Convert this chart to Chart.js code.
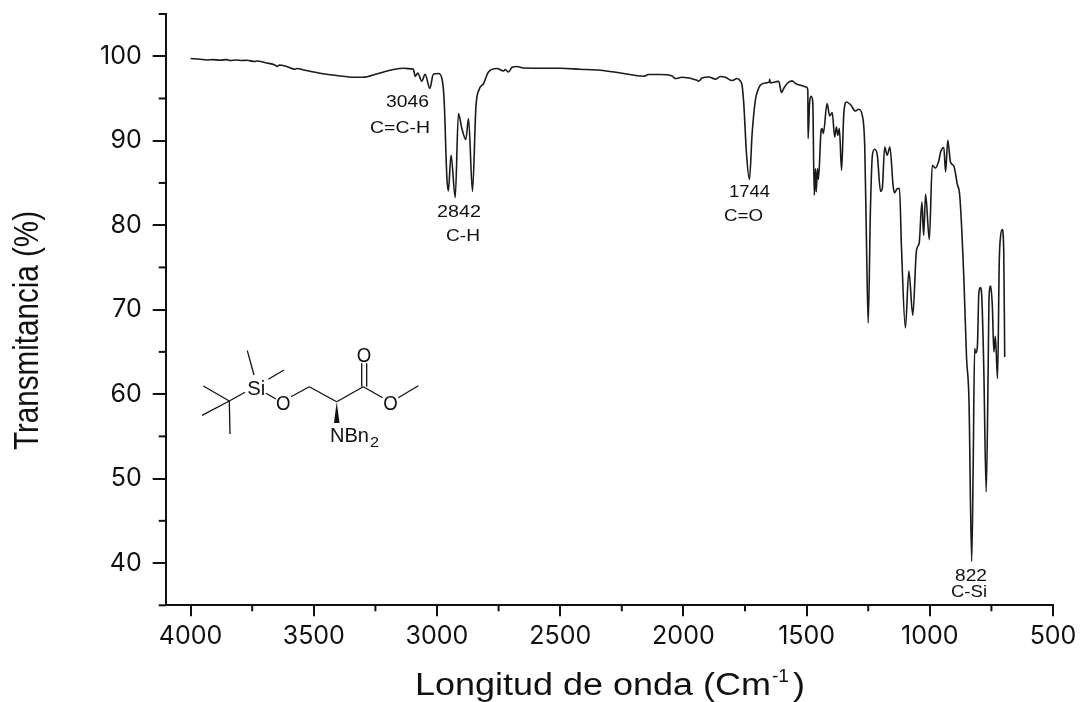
<!DOCTYPE html>
<html>
<head>
<meta charset="utf-8">
<style>
	html, body { margin: 0; padding: 0; background: #fff; }
	#wrap { position: relative; width: 1083px; height: 702px; }
</style>
<script src="https://cdn.jsdelivr.net/npm/chart.js@4"></script>
</head>
<body>
<div id="wrap"><canvas id="irChart" width="1083" height="702"></canvas></div>
<script>
const wavenumbers = [
	4000, 3962, 3935, 3908, 3881, 3854, 3840, 3813, 3793, 3773, 3739, 3732, 3691, 3658, 3648, 3640,
	3610, 3576, 3569, 3536, 3475, 3407, 3333, 3299, 3245, 3177, 3136, 3102, 3096, 3088, 3078, 3062,
	3048, 3029, 3015, 2994, 2980, 2971, 2960, 2954, 2943, 2926, 2913, 2899, 2883, 2872, 2856, 2842,
	2829, 2811, 2791, 2757, 2730, 2723, 2710, 2696, 2676, 2649, 2500, 2419, 2337, 2256, 2162, 2141,
	2094, 2046, 2033, 2006, 1945, 1938, 1924, 1897, 1870, 1850, 1830, 1802, 1782, 1769, 1762, 1755,
	1744, 1732, 1721, 1708, 1698, 1688, 1667, 1651, 1650, 1647, 1627, 1613, 1602, 1593, 1579, 1559,
	1545, 1525, 1501, 1495, 1494, 1488, 1482, 1475, 1469, 1464, 1461, 1456, 1452, 1441, 1437, 1432,
	1417, 1406, 1396, 1386, 1379, 1373, 1367, 1358, 1349, 1338, 1322, 1302, 1288, 1274, 1264, 1258,
	1250, 1241, 1233, 1224, 1213, 1200, 1193, 1183, 1173, 1162, 1149, 1143, 1132, 1123, 1115, 1099,
	1085, 1069, 1054, 1043, 1032, 1025, 1017, 1002, 990, 977, 963, 956, 943, 936, 927, 916,
	902, 889, 878, 862, 851, 841, 830, 824, 818, 813, 807, 801, 795, 789, 781, 771,
	763, 760, 753, 746, 740, 734, 725, 718, 713, 706, 700, 696,
];
const transmittance = [
	99.73, 99.64, 99.56, 99.6, 99.53, 99.6, 99.49, 99.56, 99.49, 99.53, 99.37, 99.44, 99.21, 98.97, 98.78, 98.97,
	98.78, 98.46, 98.54, 98.34, 97.99, 97.71, 97.51, 97.51, 97.9, 98.42, 98.58, 98.5, 98.46, 97.63, 98.02, 97.04,
	97.87, 96.18, 97.87, 97.95, 97.36, 94.79, 85.71, 84.05, 88.28, 83.27, 93.21, 91.44, 90.14, 92.62, 84.01, 94.0,
	96.06, 96.77, 98.14, 98.54, 98.26, 98.43, 98.14, 98.66, 98.78, 98.61, 98.58, 98.46, 98.34, 98.02, 97.63, 97.83,
	97.83, 97.67, 97.36, 97.51, 97.16, 97.04, 97.43, 97.55, 97.28, 97.6, 97.51, 97.12, 97.36, 97.07, 96.57, 94.4,
	88.48, 85.4, 90.85, 94.79, 95.97, 96.57, 96.84, 96.96, 97.28, 96.84, 96.96, 97.04, 95.7, 96.18, 96.77, 97.08,
	96.77, 96.57, 96.36, 95.97, 90.25, 94.4, 95.26, 94.59, 83.54, 86.7, 83.93, 86.7, 85.4, 91.24, 91.44, 90.85,
	94.4, 92.93, 93.33, 90.44, 91.63, 90.65, 91.44, 86.5, 93.21, 94.59, 94.28, 93.52, 93.72, 93.01, 89.26, 79.79,
	68.42, 81.76, 88.28, 88.99, 88.28, 84.01, 84.33, 89.26, 88.28, 89.26, 84.72, 83.81, 84.33, 84.33, 77.42, 67.83,
	74.58, 69.33, 77.03, 77.89, 82.75, 78.8, 83.66, 78.29, 87.09, 86.77, 87.68, 88.67, 89.19, 86.3, 90.05, 87.48,
	86.97, 84.93, 83.34, 73.87, 64.39, 59.27, 40.2, 51.36, 65.39, 64.87, 65.58, 71.94, 72.61, 71.5, 63.21, 48.41,
	63.21, 71.1, 72.8, 70.31, 64.99, 66.84, 61.83, 75.84, 78.6, 79.48, 77.03, 64.39,
];
const xTicks = [4000, 3500, 3000, 2500, 2000, 1500, 1000, 500];
const xMinorTicks = [3750, 3250, 2750, 2250, 1750, 1250, 750];
const yTicks = [40, 50, 60, 70, 80, 90, 100];
const yMinorTicks = [35, 45, 55, 65, 75, 85, 95, 105];
const peakLabels = ["3046", "C=C-H", "2842", "C-H", "1744", "C=O", "822", "C-Si"];

const INK = "#111";
const FONT = "'Liberation Sans', Arial, sans-serif";

// text stretched to the width it has in the picture
function fitText(ctx, text, left, baseline, size, width, font = FONT) {
	ctx.save();
	ctx.font = `${size}px ${font}`;
	ctx.textAlign = "left";
	ctx.textBaseline = "alphabetic";
	ctx.fillStyle = INK;
	ctx.translate(left, baseline);
	ctx.scale(width / ctx.measureText(text).width, 1);
	ctx.fillText(text, 0, 0);
	ctx.restore();
}

function line(ctx, x1, y1, x2, y2) {
	ctx.beginPath();
	ctx.moveTo(x1, y1);
	ctx.lineTo(x2, y2);
	ctx.stroke();
}

const minorTicks = {
	id: "minorTicks",
	afterDraw(chart) {
		const { ctx, scales } = chart;
		ctx.save();
		ctx.strokeStyle = INK;
		ctx.lineWidth = 2;
		const bottom = chart.chartArea.bottom;
		const left = chart.chartArea.left;
		xMinorTicks.forEach((v) => {
			const x = scales.x.getPixelForValue(v);
			line(ctx, x, bottom, x, bottom + 6);
		});
		yMinorTicks.forEach((v) => {
			const y = scales.y.getPixelForValue(v);
			line(ctx, left - 7, y, left, y);
		});
		ctx.restore();
	},
};

const axisTitles = {
	id: "axisTitles",
	afterDraw(chart) {
		const { ctx } = chart;
		fitText(ctx, "Longitud de onda (Cm", 415, 695, 31, 356);
		fitText(ctx, "-1", 772, 682, 18, 17);
		fitText(ctx, ")", 793, 695, 31, 12);
		ctx.save();
		ctx.translate(38, 450);
		ctx.rotate(-Math.PI / 2);
		ctx.font = `35px ${FONT}`;
		const w = ctx.measureText("Transmitancia (%)").width;
		ctx.scale(239 / w, 1);
		ctx.fillStyle = INK;
		ctx.textBaseline = "alphabetic";
		ctx.fillText("Transmitancia (%)", 0, 0);
		ctx.restore();
	},
};

const peakNotes = {
	id: "peakNotes",
	afterDraw(chart) {
		const { ctx } = chart;
		const spots = [
			[386, 107, 43], [370, 133, 60], [437, 217, 44], [446, 241, 34],
			[729, 197, 41], [724, 221, 39], [955, 581, 32], [951, 597, 36],
		];
		peakLabels.forEach((t, i) => fitText(ctx, t, spots[i][0], spots[i][1], 17, spots[i][2]));
	},
};

const molecule = {
	id: "molecule",
	afterDraw(chart) {
		const { ctx } = chart;
		const bonds = [
			[229.3, 401, 203.3, 386], [229.3, 401, 202, 415.3], [229.3, 401, 230, 434],
			[229.3, 401, 245, 392.3], [254, 375, 247.3, 350.7], [268.3, 379.3, 284, 370],
			[266, 393.3, 276, 399], [291, 396.7, 309.3, 386.7], [309.3, 386.7, 336.7, 401.7],
			[336.7, 401.7, 363.3, 386.7], [361.7, 386.7, 361.7, 363.3], [366.7, 386.7, 366.7, 363.3],
			[363.3, 386.7, 382.7, 397.7], [398.3, 397.7, 418.3, 385.7],
		];
		ctx.save();
		ctx.strokeStyle = INK;
		ctx.lineWidth = 1.3;
		bonds.forEach((b) => line(ctx, b[0], b[1], b[2], b[3]));
		ctx.fillStyle = INK;
		ctx.beginPath();
		ctx.moveTo(336.7, 401.7);
		ctx.lineTo(334, 423);
		ctx.lineTo(339.5, 423);
		ctx.closePath();
		ctx.fill();
		ctx.restore();
		fitText(ctx, "Si", 247.3, 395, 21, 18);
		fitText(ctx, "O", 276, 410, 20, 14.5);
		fitText(ctx, "O", 356.7, 362.3, 20, 14.5);
		fitText(ctx, "O", 383.3, 410, 20, 14.5);
		fitText(ctx, "NBn", 330, 441.7, 21, 39);
		fitText(ctx, "2", 370, 446.7, 14, 9);
	},
};

new Chart(document.getElementById("irChart"), {
	type: "scatter",
	data: {
		datasets: [
			{
				data: wavenumbers.map((x, i) => ({ x, y: transmittance[i] })),
				showLine: true,
				borderColor: "#1a1a1a",
				borderWidth: 1.6,
				pointRadius: 0,
				tension: 0,
				cubicInterpolationMode: "monotone",
			},
		],
	},
	options: {
		responsive: false,
		animation: false,
		layout: {
			autoPadding: false,
			padding: { left: 0, top: 14, right: 30, bottom: 0 },
		},
		plugins: { legend: { display: false }, tooltip: { enabled: false } },
		scales: {
			x: {
				type: "linear",
				reverse: true,
				min: 500,
				max: 4101,
				afterBuildTicks: (s) => {
					s.ticks = xTicks.map((value) => ({ value }));
				},
				afterFit: (s) => {
					s.height = 96.7;
					s.paddingLeft = 0;
					s.paddingRight = 0;
				},
				border: { color: INK, width: 2 },
				grid: { drawOnChartArea: false, color: INK, lineWidth: 2, tickLength: 11 },
				ticks: {
					color: INK,
					font: { family: "Inter", size: 25 },
					padding: 5,
					maxRotation: 0,
					callback: (v) => String(v),
				},
			},
			y: {
				type: "linear",
				min: 35,
				max: 105,
				afterBuildTicks: (s) => {
					s.ticks = yTicks.map((value) => ({ value }));
				},
				afterFit: (s) => {
					s.width = 165.7;
					s.paddingTop = 0;
					s.paddingBottom = 0;
				},
				border: { color: INK, width: 2 },
				grid: { drawOnChartArea: false, color: INK, lineWidth: 2, tickLength: 13 },
				ticks: {
					color: INK,
					font: { family: "Inter", size: 25 },
					padding: 11,
					callback: (v) => String(v),
				},
			},
		},
	},
	plugins: [minorTicks, axisTitles, peakNotes, molecule],
});
</script>
</body>
</html>
